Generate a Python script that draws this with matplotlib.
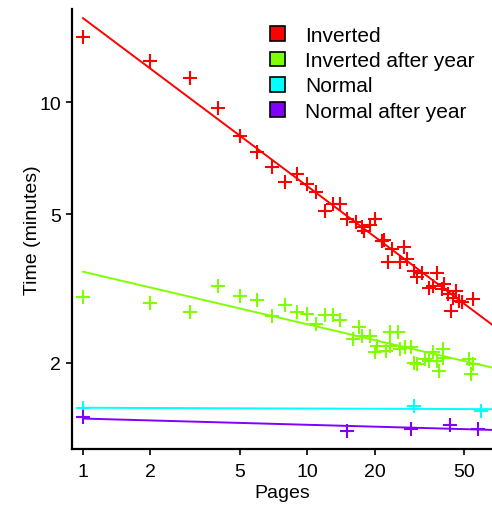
# Reading time vs pages, log-log with fitted lines
import numpy as np
import matplotlib
matplotlib.use("Agg")
from matplotlib import pyplot as plt
from matplotlib.patches import Patch

plt.rcParams['font.family'] = ['Liberation Sans', 'DejaVu Sans']

# data
inv_pages = [1, 2, 3, 4, 5, 6, 7, 8, 9, 10, 11, 12, 13, 14, 15, 16.5, 17.5, 18, 19, 20,
             21.5, 22, 23, 24, 26, 27, 28, 30, 31, 32.5, 35, 36.5, 38, 40, 41, 42.5, 44, 45, 46, 47.5,
             49, 55]
inv_time = [14.9, 12.85, 11.57, 9.65, 8.09, 7.36, 6.71, 6.12, 6.41, 6.03, 5.75, 5.11, 5.33, 5.33, 4.86,
            4.76, 4.61, 4.52, 4.69, 4.86, 4.25, 4.27, 3.72, 4.04, 3.72, 4.08, 3.79, 3.53, 3.39, 3.49,
            3.18, 3.22, 3.49, 3.15, 3.25, 3.05, 2.76, 2.99, 3.12, 2.93, 2.91, 2.97]

inv_year_pages = [1, 2, 3, 4, 5, 6, 7, 8, 9, 10, 11, 12, 13, 14, 16, 17, 17.5, 19, 20, 20.5,
                  22.5, 23.5, 23.5, 25.5, 26, 27.5, 29, 30, 31, 33.5, 35, 36.5, 38, 39, 40.5, 40.5,
                  53, 54, 55]
inv_year_time = [3.0, 2.89, 2.73, 3.22, 3.01, 2.94, 2.67, 2.85, 2.73, 2.70, 2.54, 2.68, 2.68, 2.6,
                 2.32, 2.49, 2.36, 2.36, 2.13, 2.22, 2.15, 2.22, 2.41, 2.41, 2.18, 2.20, 2.20, 2.00,
                 1.99, 2.05, 2.02, 2.13, 2.02, 1.90, 2.18, 2.06, 2.05, 1.87, 1.99]

norm_pages = [1, 30, 60]
norm_time = [1.51, 1.53, 1.48]

norm_year_pages = [1, 15, 29, 43.5, 58]
norm_year_time = [1.43, 1.315, 1.33, 1.36, 1.33]

labels = ['Inverted', 'Inverted after year', 'Normal', 'Normal after year']
colors = ['#FF0000', '#80FF00', '#00FFFF', '#8000FF']
xticks = [1, 2, 5, 10, 20, 50]
yticks = [2, 5, 10]

series = [(inv_pages, inv_time), (inv_year_pages, inv_year_time),
          (norm_pages, norm_time), (norm_year_pages, norm_year_time)]

fig = plt.figure(figsize=(4.92, 5.06), dpi=100)
ax = fig.add_axes([0.1463, 0.1107, 0.8537, 0.8696])
ax.set_xscale('log')
ax.set_yscale('log')
ax.set_xlim(0.893, 66.9)
ax.set_ylim(1.174, 17.76)

xfit = np.array([1, 70])
for (px, py), col in zip(series, colors):
	# power-law fit in log-log space
	b, a = np.polyfit(np.log10(px), np.log10(py), 1)
	ax.plot(xfit, 10 ** (a + b * np.log10(xfit)), color=col, lw=1.4, zorder=2)
	ax.plot(px, py, '+', color=col, ms=9.5, mew=1.5, zorder=3)

ax.set_xticks(xticks)
ax.set_xticklabels([str(t) for t in xticks])
ax.set_yticks(yticks)
ax.set_yticklabels([str(t) for t in yticks])
ax.minorticks_off()
ax.tick_params(labelsize=14, length=4, width=1.2, color='black', labelcolor='black')
ax.tick_params(axis='x', pad=6)
ax.tick_params(axis='y', pad=4)

for s in ['top', 'right']:
	ax.spines[s].set_visible(False)
for s in ['left', 'bottom']:
	ax.spines[s].set_linewidth(1.6)

ax.set_xlabel('Pages', fontsize=14, labelpad=3)
ax.set_ylabel('Time (minutes)', fontsize=14, labelpad=-1)

handles = [Patch(facecolor=c, edgecolor='black', linewidth=1.2) for c in colors]
fig.legend(handles, labels, loc='upper left', bbox_to_anchor=(270 / 492, 1 - 27 / 506),
           frameon=False, fontsize=15, handlelength=0.7, handleheight=0.7,
           handletextpad=1.0, labelspacing=0.3, borderpad=0, borderaxespad=0)

fig.savefig('out.png', dpi=100)
